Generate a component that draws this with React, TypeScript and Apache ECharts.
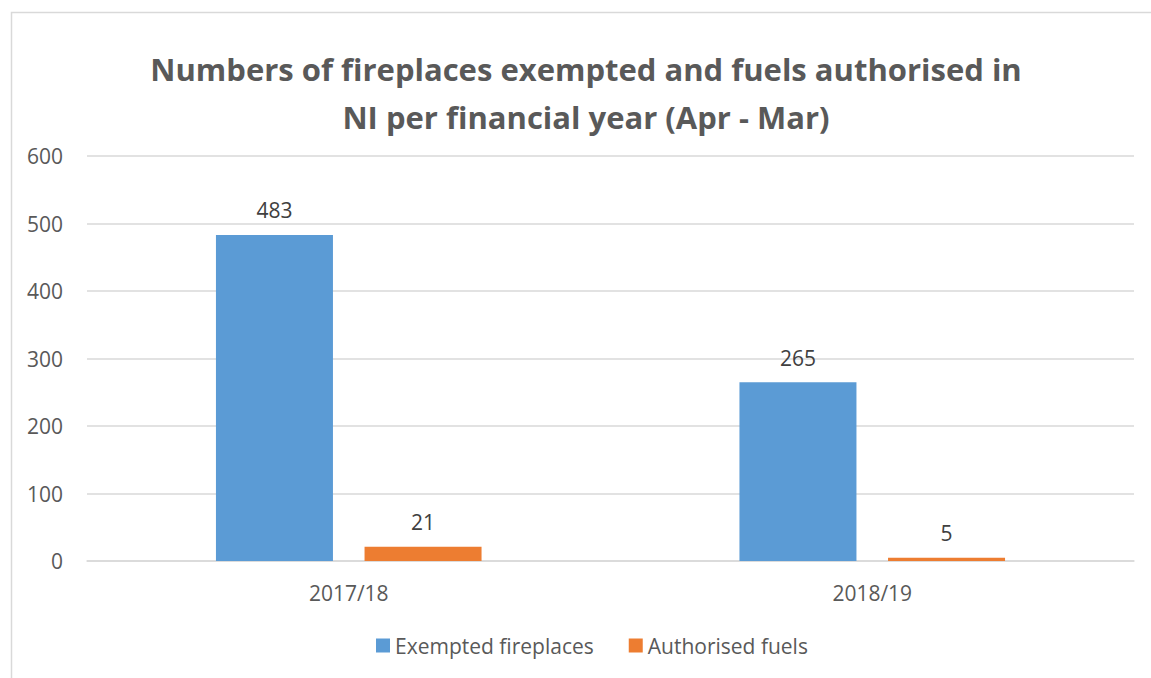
import React, { useEffect, useRef } from "react";
import * as echarts from "echarts";

const categories = ["2017/18", "2018/19"];
const exempted = [483, 265];
const authorised = [21, 5];
const seriesNames = ["Exempted fireplaces", "Authorised fuels"];
const titleLines = [
  "Numbers of fireplaces exempted and fuels authorised in",
  "NI per financial year (Apr - Mar)",
];

const FONT = "'Open Sans', 'Noto Sans', sans-serif";

export default function App() {
  const ref = useRef<HTMLDivElement>(null);
  useEffect(() => {
    if (!ref.current) return;
    const chart = echarts.init(ref.current, null, { renderer: "svg" });
    const labelStyle = {
      show: true,
      position: "top",
      distance: 14,
      fontFamily: FONT,
      fontSize: 21,
      color: "#404040",
    };
    chart.setOption({
      animation: false,
      textStyle: { fontFamily: FONT },
      title: {
        text: titleLines.join("\n"),
        left: 581,
        top: 40,
        textAlign: "center",
        textStyle: {
          fontFamily: FONT,
          fontSize: 31,
          fontWeight: "bold",
          color: "#595959",
          lineHeight: 48,
        },
      },
      graphic: [
        {
          type: "rect",
          shape: { x: 11.5, y: 12.5, width: 1200, height: 700 },
          style: { fill: "none", stroke: "#d9d9d9", lineWidth: 1.5 },
          silent: true,
        },
      ],
      legend: {
        data: seriesNames,
        top: 630,
        left: 371,
        itemWidth: 14,
        itemHeight: 14,
        itemGap: 35,
        icon: "rect",
        textStyle: { fontFamily: FONT, fontSize: 21, color: "#595959" },
      },
      grid: { left: 87, right: 17, top: 156, bottom: 117, containLabel: false },
      xAxis: {
        type: "category",
        data: categories,
        axisLine: { lineStyle: { color: "#d9d9d9", width: 1.5 } },
        axisTick: { show: false },
        axisLabel: { fontFamily: FONT, fontSize: 21, color: "#595959", margin: 21 },
      },
      yAxis: {
        type: "value",
        min: 0,
        max: 600,
        interval: 100,
        axisLine: { show: false },
        axisTick: { show: false },
        splitLine: { lineStyle: { color: "#d9d9d9", width: 1.5 } },
        axisLabel: { fontFamily: FONT, fontSize: 21, color: "#595959", margin: 24 },
      },
      series: [
        {
          name: seriesNames[0],
          type: "bar",
          data: exempted,
          barWidth: 117,
          barGap: "27%",
          itemStyle: { color: "#5b9bd5" },
          label: labelStyle,
        },
        {
          name: seriesNames[1],
          type: "bar",
          data: authorised,
          barWidth: 117,
          barGap: "27%",
          itemStyle: { color: "#ed7d31" },
          label: labelStyle,
        },
      ],
    });
    return () => chart.dispose();
  }, []);
  return (
    <div
      ref={ref}
      style={{ position: "absolute", left: 0, top: 0, width: 1151, height: 678, background: "#fff" }}
    />
  );
}
